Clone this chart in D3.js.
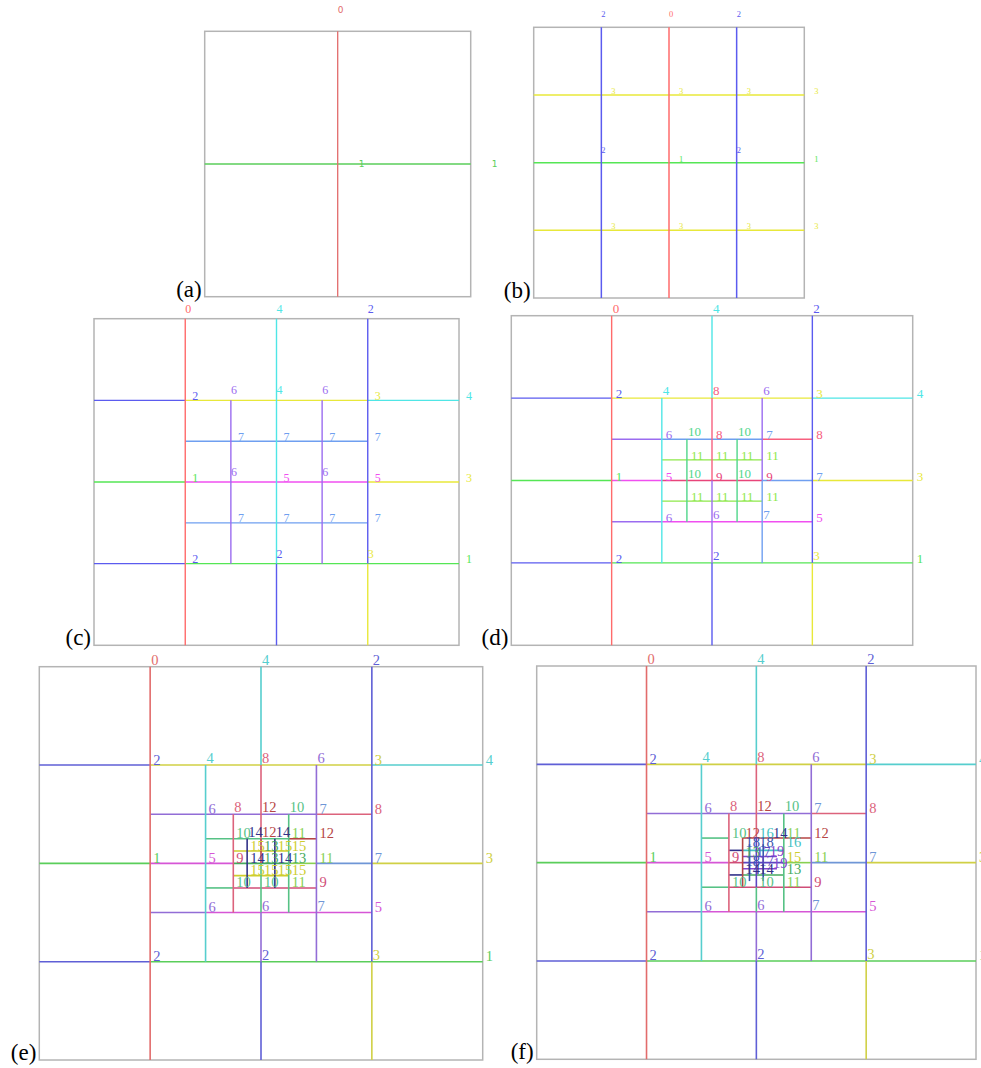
<!DOCTYPE html>
<html>
<head>
<meta charset="utf-8">
<script src="https://cdn.jsdelivr.net/npm/d3@7"></script>
<style>
  body { margin: 0; background: #fff; }
</style>
</head>
<body>
<div id="chart"></div>
<script>
// Grid refinement figure, panels (a) - (f)
// Segments: [x1, y1, x2, y2, level]  in grid units (0..64, y down)
// Labels:   [x, y, level, kind]      kind "h" = on a horizontal line, "v" = on a vertical line

// (a)
var segA = [[0,32,64,32,1],[32,0,32,64,0]];
var labA = [[32,0,0,"v"],[32,32,1,"h"],[64,32,1,"h"]];

// (b)
var segB = [[0,16,64,16,3],[0,32,64,32,1],[0,48,64,48,3],
            [16,0,16,64,2],[32,0,32,64,0],[48,0,48,64,2]];
var labB = [[16,0,2,"v"],[32,0,0,"v"],[48,0,2,"v"],
            [16,16,3,"h"],[32,16,3,"h"],[48,16,3,"h"],[64,16,3,"h"],
            [16,32,2,"v"],[48,32,2,"v"],[32,32,1,"h"],[64,32,1,"h"],
            [16,48,3,"h"],[32,48,3,"h"],[48,48,3,"h"],[64,48,3,"h"]];

// (c)
var segC = [[0,16,16,16,2],[16,16,48,16,3],[48,16,64,16,4],
            [16,24,48,24,7],
            [0,32,16,32,1],[16,32,48,32,5],[48,32,64,32,3],
            [16,40,48,40,7],
            [0,48,16,48,2],[16,48,64,48,1],
            [16,0,16,64,0],
            [32,0,32,48,4],[32,48,32,64,2],
            [48,0,48,48,2],[48,48,48,64,3],
            [24,16,24,48,6],[40,16,40,48,6]];
var labC = [[16,0,0,"v"],[32,0,4,"v"],[48,0,2,"v"],
            [16,16,2,"h"],[24,16,6,"v"],[32,16,4,"v"],[40,16,6,"v"],[48,16,3,"h"],[64,16,4,"h"],
            [24,24,7,"h"],[32,24,7,"h"],[40,24,7,"h"],[48,24,7,"h"],
            [16,32,1,"h"],[24,32,6,"v"],[32,32,5,"h"],[40,32,6,"v"],[48,32,5,"h"],[64,32,3,"h"],
            [24,40,7,"h"],[32,40,7,"h"],[40,40,7,"h"],[48,40,7,"h"],
            [16,48,2,"h"],[32,48,2,"v"],[48,48,3,"v"],[64,48,1,"h"]];

// (d)
var segD = [[0,16,16,16,2],[16,16,48,16,3],[48,16,64,16,4],
            [16,24,24,24,6],[24,24,40,24,7],[40,24,48,24,8],
            [24,28,40,28,11],
            [0,32,16,32,1],[16,32,24,32,5],[24,32,40,32,9],[40,32,48,32,7],[48,32,64,32,3],
            [24,36,40,36,11],
            [16,40,24,40,6],[24,40,48,40,5],
            [0,48,16,48,2],[16,48,64,48,1],
            [16,0,16,64,0],
            [32,0,32,16,4],[32,16,32,32,8],[32,32,32,48,6],[32,48,32,64,2],
            [48,0,48,48,2],[48,48,48,64,3],
            [24,16,24,48,4],
            [40,16,40,32,6],[40,32,40,48,7],
            [28,24,28,40,10],[36,24,36,40,10]];
var labD = [[16,0,0,"v"],[32,0,4,"v"],[48,0,2,"v"],
            [16,16,2,"h"],[24,16,4,"v"],[32,16,8,"v"],[40,16,6,"v"],[48,16,3,"h"],[64,16,4,"h"],
            [24,24,6,"h"],[28,24,10,"v"],[32,24,8,"h"],[36,24,10,"v"],[40,24,7,"h"],[48,24,8,"h"],
            [28,28,11,"h"],[32,28,11,"h"],[36,28,11,"h"],[40,28,11,"h"],
            [16,32,1,"h"],[24,32,5,"h"],[28,32,10,"v"],[32,32,9,"h"],[36,32,10,"v"],[40,32,9,"h"],[48,32,7,"h"],[64,32,3,"h"],
            [28,36,11,"h"],[32,36,11,"h"],[36,36,11,"h"],[40,36,11,"h"],
            [24,40,6,"h"],[32,40,6,"v"],[40,40,7,"v"],[48,40,5,"h"],
            [16,48,2,"h"],[32,48,2,"v"],[48,48,3,"v"],[64,48,1,"h"]];

// (e)
var segE = [[0,16,16,16,2],[16,16,48,16,3],[48,16,64,16,4],
            [16,24,40,24,6],[40,24,48,24,8],
            [24,28,36,28,10],[36,28,40,28,12],
            [28,30,36,30,15],
            [0,32,16,32,1],[16,32,28,32,5],[28,32,36,32,13],[36,32,40,32,11],[40,32,48,32,7],[48,32,64,32,3],
            [28,34,36,34,15],
            [24,36,28,36,10],[28,36,40,36,9],
            [16,40,24,40,6],[24,40,48,40,5],
            [0,48,16,48,2],[16,48,64,48,1],
            [16,0,16,64,0],
            [32,0,32,16,4],[32,16,32,28,8],[32,28,32,32,12],[32,32,32,40,10],[32,40,32,48,6],[32,48,32,64,2],
            [48,0,48,48,2],[48,48,48,64,3],
            [24,16,24,48,4],
            [40,16,40,48,6],
            [28,24,28,40,8],[36,24,36,40,10],
            [30,28,30,36,14],[34,28,34,36,14]];
var labE = [[16,0,0,"v"],[32,0,4,"v"],[48,0,2,"v"],
            [16,16,2,"h"],[24,16,4,"v"],[32,16,8,"v"],[40,16,6,"v"],[48,16,3,"h"],[64,16,4,"h"],
            [24,24,6,"h"],[28,24,8,"v"],[32,24,12,"v"],[36,24,10,"v"],[40,24,7,"h"],[48,24,8,"h"],
            [28,28,10,"h"],[30,28,14,"v"],[32,28,12,"v"],[34,28,14,"v"],[36,28,11,"h"],[40,28,12,"h"],
            [30,30,15,"h"],[32,30,13,"h"],[34,30,15,"h"],[36,30,15,"h"],
            [16,32,1,"h"],[24,32,5,"h"],[28,32,9,"h"],[30,32,14,"h"],[32,32,13,"h"],[34,32,14,"h"],[36,32,13,"h"],[40,32,11,"h"],[48,32,7,"h"],[64,32,3,"h"],
            [30,34,15,"h"],[32,34,15,"h"],[34,34,15,"h"],[36,34,15,"h"],
            [28,36,10,"h"],[32,36,10,"h"],[36,36,11,"h"],[40,36,9,"h"],
            [24,40,6,"h"],[32,40,6,"v"],[40,40,7,"v"],[48,40,5,"h"],
            [16,48,2,"h"],[32,48,2,"v"],[48,48,3,"v"],[64,48,1,"h"]];

// (f)
var segF = [[0,16,16,16,2],[16,16,48,16,3],[48,16,64,16,4],
            [16,24,40,24,6],[40,24,48,24,8],
            [24,28,28,28,10],[30,28,40,28,12],
            [28,30,30,30,14],[30,30,36,30,16],
            [30,31,35,31,19],
            [0,32,16,32,1],[16,32,28,32,5],[28,32,30,32,9],[30,32,36,32,17],[36,32,40,32,11],[40,32,48,32,7],[48,32,64,32,3],
            [30,33,35,33,19],
            [28,34,30,34,14],[30,34,36,34,13],
            [24,36,28,36,10],[28,36,40,36,9],
            [16,40,24,40,6],[24,40,48,40,5],
            [0,48,16,48,2],[16,48,64,48,1],
            [16,0,16,64,0],
            [32,0,32,16,4],[32,16,32,28,8],[32,28,32,36,17],[32,36,32,40,10],[32,40,32,48,6],[32,48,32,64,2],
            [48,0,48,48,2],[48,48,48,64,3],
            [24,16,24,48,4],
            [40,16,40,48,6],
            [28,24,28,40,8],[36,24,36,40,10],
            [30,28,30,36,12],
            [31,29,31,35,18],[33,29,33,35,18]];
var labF = [[16,0,0,"v"],[32,0,4,"v"],[48,0,2,"v"],
            [16,16,2,"h"],[24,16,4,"v"],[32,16,8,"v"],[40,16,6,"v"],[48,16,3,"h"],[64,16,4,"h"],
            [24,24,6,"h"],[28,24,8,"v"],[32,24,12,"v"],[36,24,10,"v"],[40,24,7,"h"],[48,24,8,"h"],
            [28,28,10,"h"],[30,28,12,"h"],[32,28,16,"h"],[34,28,14,"h"],[36,28,11,"h"],[40,28,12,"h"],
            [30,29.5,18,"h"],[32,29.5,18,"h"],[36,29.5,16,"h"],
            [30,31.2,13,"h"],[31.5,31.2,17,"h"],[33.5,31,19,"h"],
            [16,32,1,"h"],[24,32,5,"h"],[28,32,9,"h"],[36,32,15,"h"],[40,32,11,"h"],[48,32,7,"h"],[64,32,3,"h"],
            [30,32.6,18,"h"],[32,32.6,17,"h"],[34,33,19,"h"],
            [30,34,14,"h"],[32,34,14,"h"],[36,34,13,"h"],
            [28,36,10,"h"],[32,36,10,"h"],[36,36,11,"h"],[40,36,9,"h"],
            [24,40,6,"h"],[32,40,6,"v"],[40,40,7,"v"],[48,40,5,"h"],
            [16,48,2,"h"],[32,48,2,"v"],[48,48,3,"v"],[64,48,1,"h"]];

// colour per refinement level
var levelColors = ["#ff6b6b","#55e655","#5b5bef","#e8e83a","#4fe6e6","#f04ff0","#9b6cf0",
                   "#6f9ff0","#f7607f","#e8457a","#4fd68a","#8ee84a","#c83a3a","#3cb85a",
                   "#23238f","#e6e61e","#3ad6d6","#5a3ad6","#2a4fc0","#8a3ae6"];

var width = 981, height = 1068;

var svg = d3.select("#chart").append("svg")
    .attr("width", width)
    .attr("height", height)
    .style("background", "#fff");

// panel layout
var panels = [
    {tag: "(a)", segs: segA, labs: labA, x: 204.7, y: 31.3, w: 266, h: 265.4,
     font: 9, family: "DejaVu Sans", hdx: 21, hdy: 3, vdx: 0, vdy: -18, lw: 1.3, dim: 0.2},
    {tag: "(b)", segs: segB, labs: labB, x: 533.7, y: 27.3, w: 270.6, h: 270.7,
     font: 8.5, family: "Liberation Serif", hdx: 10, hdy: -1, vdx: 0, vdy: -10, lw: 1.5, dim: 0},
    {tag: "(c)", segs: segC, labs: labC, x: 94, y: 318.7, w: 365, h: 326.6,
     font: 12, family: "Liberation Serif", hdx: 7, hdy: -0.5, vdx: 0, vdy: -6, lw: 1.4, dim: 0},
    {tag: "(d)", segs: segD, labs: labD, x: 511.3, y: 315.7, w: 401.4, h: 329.6,
     font: 13, family: "Liberation Serif", hdx: 4, hdy: 0, vdx: 1, vdy: -3, lw: 1.4, dim: 0},
    {tag: "(e)", segs: segE, labs: labE, x: 39.3, y: 666.7, w: 443.4, h: 393.3,
     font: 14.5, family: "Liberation Serif", hdx: 3, hdy: -0.5, vdx: 1, vdy: -2, lw: 1.6, dim: 0.2},
    {tag: "(f)", segs: segF, labs: labF, x: 536.7, y: 666, w: 439.3, h: 393.3,
     font: 14.5, family: "Liberation Serif", hdx: 3, hdy: -0.5, vdx: 1, vdy: -2, lw: 1.6, dim: 0.2}
];

var colour = d3.scaleOrdinal().domain(d3.range(levelColors.length)).range(levelColors);

function drawPanel(p) {
    var xScale = d3.scaleLinear().domain([0, 64]).range([p.x, p.x + p.w]);
    var yScale = d3.scaleLinear().domain([0, 64]).range([p.y, p.y + p.h]);
    var col = function(level) {
        return d3.interpolateRgb(colour(level), "#707070")(p.dim);
    };
    var g = svg.append("g");

    // frame
    g.append("rect")
        .attr("x", xScale(0))
        .attr("y", yScale(0))
        .attr("width", xScale(64) - xScale(0))
        .attr("height", yScale(64) - yScale(0))
        .attr("fill", "none")
        .attr("stroke", "#b4b4b4")
        .attr("stroke-width", 1.5);

    // grid lines
    g.selectAll("line.seg").data(p.segs).enter()
        .append("line")
        .attr("class", "seg")
        .attr("x1", function(d) { return xScale(d[0]); })
        .attr("y1", function(d) { return yScale(d[1]); })
        .attr("x2", function(d) { return xScale(d[2]); })
        .attr("y2", function(d) { return yScale(d[3]); })
        .attr("stroke", function(d) { return col(d[4]); })
        .attr("stroke-width", p.lw);

    // level numbers
    g.selectAll("text.lab").data(p.labs).enter()
        .append("text")
        .attr("class", "lab")
        .attr("x", function(d) { return xScale(d[0]) + (d[3] === "h" ? p.hdx : p.vdx); })
        .attr("y", function(d) { return yScale(d[1]) + (d[3] === "h" ? p.hdy : p.vdy); })
        .attr("font-family", p.family)
        .attr("font-size", p.font)
        .attr("fill", function(d) { return col(d[2]); })
        .text(function(d) { return d[2]; });

    // panel tag
    g.append("text")
        .attr("x", xScale(0) - 3)
        .attr("y", yScale(64))
        .attr("text-anchor", "end")
        .attr("font-family", "Liberation Serif")
        .attr("font-size", 23)
        .attr("fill", "#000")
        .text(p.tag);
}

panels.forEach(drawPanel);
</script>
</body>
</html>
